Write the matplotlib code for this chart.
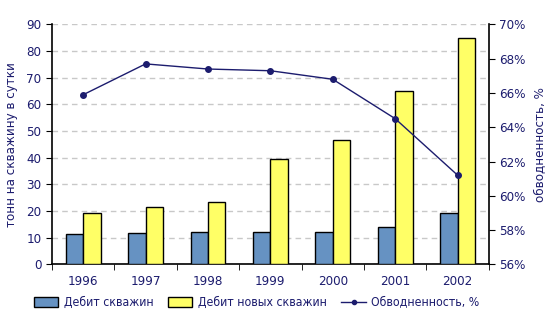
import numpy as np
import matplotlib
matplotlib.use("Agg")
import matplotlib.pyplot as plt
from matplotlib.lines import Line2D
from matplotlib.patches import Patch

years = ["1996", "1997", "1998", "1999", "2000", "2001", "2002"]
debit_all = [11.3, 11.6, 12.0, 12.0, 12.0, 13.9, 19.2]
debit_new = [19.2, 21.4, 23.3, 39.5, 46.6, 65.0, 85.0]
water_cut = [65.9, 67.7, 67.4, 67.3, 66.8, 64.5, 61.2]

navy = "#1c1c6e"
blue = "#6692c2"
yellow = "#ffff66"

plt.rcParams["font.family"] = ["DejaVu Sans"]
plt.rcParams["font.stretch"] = "condensed"
plt.rcParams["font.size"] = 9.5

fig = plt.figure(figsize=(5.53, 3.31), dpi=100)
ax = fig.add_axes([0.094, 0.2015, 0.790, 0.7245])

x = np.arange(len(years))
w = 0.28
ax.bar(x - w / 2, debit_all, w, color=blue, edgecolor="black", linewidth=1, zorder=3)
ax.bar(x + w / 2, debit_new, w, color=yellow, edgecolor="black", linewidth=1, zorder=3)

ax.set_xlim(-0.5, len(years) - 0.5)
ax.set_ylim(0, 90)
ax.set_yticks(range(0, 91, 10))
ax.set_xticks(x)
ax.set_xticklabels(years)
ax.set_xticks(np.arange(-0.5, len(years)), minor=True)
ax.tick_params(axis="x", which="major", length=0, pad=8, colors=navy)
ax.tick_params(axis="x", which="minor", length=4, direction="out", color="black")
ax.tick_params(axis="y", length=4, direction="out", colors=navy, color="black")
for lbl in ax.get_yticklabels():
    lbl.set_color(navy)
ax.yaxis.grid(True, linestyle=(0, (4, 3)), color="#c8c8c8", linewidth=1, zorder=0)
ax.set_ylabel("тонн на скважину в сутки", color=navy, labelpad=6)

for s in ["top", "right"]:
    ax.spines[s].set_visible(False)
ax.spines["left"].set_linewidth(1.2)
ax.spines["bottom"].set_linewidth(1.2)

ax2 = ax.twinx()
ax2.plot(x, water_cut, color=navy, linewidth=1, marker="o", markersize=4, zorder=5)
ax2.set_ylim(56, 70)
ax2.set_yticks(range(56, 71, 2))
ax2.set_yticklabels([f"{v}%" for v in range(56, 71, 2)])
ax2.tick_params(axis="y", length=4, direction="out", colors=navy, color="black")
ax2.set_ylabel("обводненность, %", color=navy, labelpad=6)
for s in ["top", "left", "bottom"]:
    ax2.spines[s].set_visible(False)
ax2.spines["right"].set_linewidth(1.2)

handles = [
    Patch(facecolor=blue, edgecolor="black", label="Дебит скважин"),
    Patch(facecolor=yellow, edgecolor="black", label="Дебит новых скважин"),
    Line2D([0], [0], color=navy, marker="o", markersize=3, linewidth=1, label="Обводненность, %"),
]
leg = fig.legend(handles=handles, loc="center", bbox_to_anchor=(0.464, 0.085), ncol=3,
                 frameon=False, fontsize=8.8, handlelength=2.0, handleheight=0.9,
                 columnspacing=1.2, handletextpad=0.45)
for t in leg.get_texts():
    t.set_color(navy)

fig.savefig("out.png", dpi=100)
